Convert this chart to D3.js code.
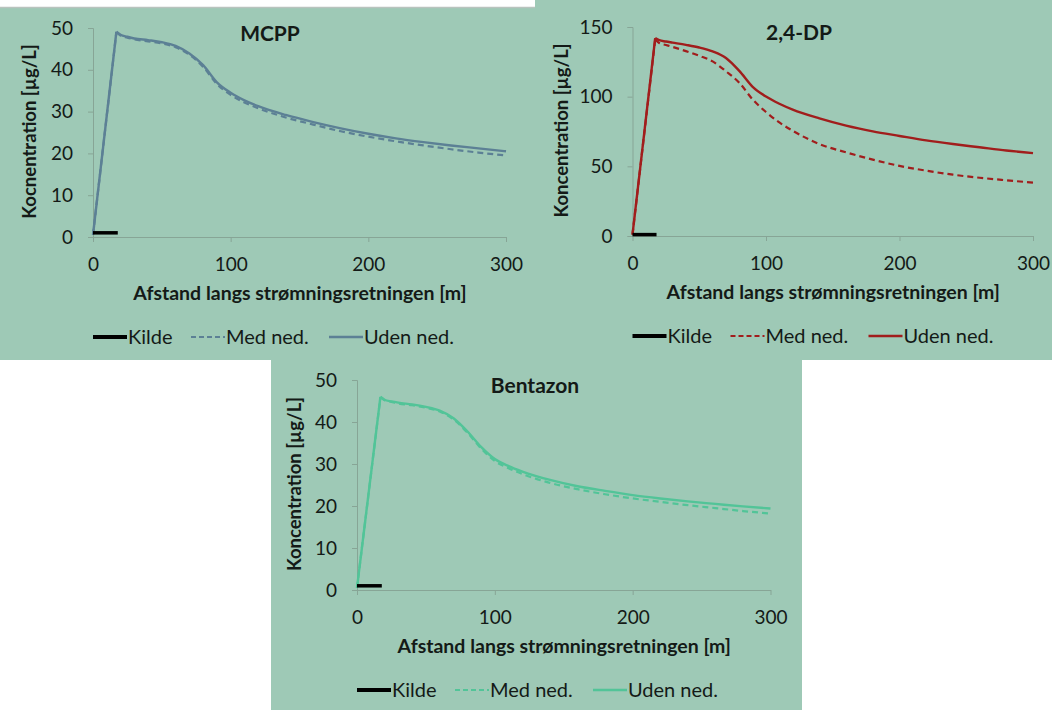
<!DOCTYPE html>
<html><head><meta charset="utf-8">
<script src="https://cdn.jsdelivr.net/npm/d3@7"></script>
<style>
html,body{margin:0;padding:0;background:#fff;}
svg{display:block;}
text{font-family:Lato,"Open Sans",sans-serif;fill:#141a17;}
</style></head><body>
<svg id="chart" width="1052" height="710"></svg>
<script>
// ---- data ----
const distances = [0, 17, 20, 25, 30, 40, 50, 60, 70, 80, 90, 100, 110, 120, 140, 160, 180, 200, 220, 240, 260, 280, 300];
const mcppUden = [0.5, 49.1, 48.4, 47.9, 47.5, 47.1, 46.6, 45.7, 43.9, 41.1, 37.0, 34.5, 32.7, 31.3, 29.2, 27.5, 26.0, 24.7, 23.6, 22.7, 21.9, 21.2, 20.5];
const mcppMed  = [0.5, 49.0, 48.2, 47.7, 47.3, 46.8, 46.3, 45.4, 43.6, 40.7, 36.6, 34.0, 32.2, 30.8, 28.6, 26.9, 25.3, 24.0, 22.9, 21.9, 21.0, 20.2, 19.5];
const dpUden   = [1, 142, 140.5, 139.6, 138.8, 137.2, 135.3, 132.5, 127.8, 118.5, 107.1, 100.1, 94.9, 90.7, 84.4, 79.2, 75.1, 71.8, 68.6, 66.0, 63.7, 61.4, 59.5];
const dpMed    = [1, 141, 138.5, 137.1, 135.7, 132.7, 129.3, 125.3, 118.2, 110.0, 98.0, 89.0, 81.5, 75.5, 66.0, 60.0, 54.8, 50.3, 46.9, 44.0, 41.8, 40.0, 38.3];
const benUden  = [0.5, 46.0, 45.3, 44.9, 44.6, 44.2, 43.6, 42.7, 40.9, 37.8, 34.1, 31.2, 29.5, 28.2, 26.2, 24.7, 23.6, 22.6, 21.8, 21.1, 20.5, 19.9, 19.4];
const benMed   = [0.5, 45.9, 45.2, 44.8, 44.4, 44.0, 43.4, 42.5, 40.6, 37.5, 33.7, 30.7, 29.0, 27.6, 25.5, 24.0, 22.8, 21.8, 21.0, 20.2, 19.5, 18.8, 18.2];
const kildeX = [0, 18];
const kildeY = [1, 1];
const xTicks = [0, 100, 200, 300];
const mcppYTicks = [0, 10, 20, 30, 40, 50];
const dpYTicks = [0, 50, 100, 150];
const benYTicks = [0, 10, 20, 30, 40, 50];
const titles = ["MCPP", "2,4-DP", "Bentazon"];
const yLabels = ["Kocnentration [µg/L]", "Koncentration [µg/L]", "Koncentration [µg/L]"];
const xLabel = "Afstand langs strømningsretningen [m]";
const legendLabels = ["Kilde", "Med ned.", "Uden ned."];

// ---- layout ----
const panels = [
  {bg:[0,7,535,353], x0:93, x1:506, yb:237, yt:28, yMax:50, yTicks:mcppYTicks, uden:mcppUden, med:mcppMed, color:"#5c8095", title:titles[0], tx:270, ylab:yLabels[0], ylOff:57, topLine:true},
  {bg:[535,0,517,360], x0:632.5, x1:1033, yb:236, yt:27, yMax:150, yTicks:dpYTicks, uden:dpUden, med:dpMed, color:"#a11d1c", title:titles[1], tx:799, ylab:yLabels[1], ylOff:65},
  {bg:[271,360,531,350], x0:357, x1:770.5, yb:590, yt:380, yMax:50, yTicks:benYTicks, uden:benUden, med:benMed, color:"#52c498", title:titles[2], tx:535, ylab:yLabels[2], ylOff:56}
];

const svg = d3.select("#chart");
const BG = "#9ec9b6";
const AX = "#87a596";

panels.forEach(p => {
  const g = svg.append("g");
  g.append("rect").attr("x",p.bg[0]).attr("y",p.bg[1]).attr("width",p.bg[2]).attr("height",p.bg[3]).attr("fill",BG);
  if (p.topLine) g.append("line").attr("x1",p.bg[0]).attr("x2",p.bg[0]+p.bg[2]).attr("y1",p.bg[1]+0.5).attr("y2",p.bg[1]+0.5).attr("stroke","#b9c3be").attr("stroke-width",1.5);

  const x = d3.scaleLinear().domain([0,300]).range([p.x0,p.x1]);
  const y = d3.scaleLinear().domain([0,p.yMax]).range([p.yb,p.yt]);

  // y axis
  const ya = g.append("g").attr("transform",`translate(${p.x0},0)`)
    .call(d3.axisLeft(y).tickValues(p.yTicks).tickSize(5).tickPadding(15).tickFormat(d3.format("d")));
  ya.select(".domain").attr("stroke",AX).attr("stroke-width",1);
  ya.selectAll(".tick line").attr("stroke",AX);
  ya.selectAll(".tick text").style("font-size","19px").attr("fill","#141a17");

  // x axis
  const xa = g.append("g").attr("transform",`translate(0,${p.yb})`)
    .call(d3.axisBottom(x).tickValues(xTicks).tickSize(5).tickPadding(16).tickSizeOuter(0));
  xa.select(".domain").attr("stroke",AX).attr("stroke-width",1);
  xa.selectAll(".tick line").attr("stroke",AX);
  xa.selectAll(".tick text").style("font-size","19px").attr("fill","#141a17");

  // lines: straight ramp to the peak, smooth decay after it
  const pts = vals => vals.map((v,i)=>[distances[i], v]);
  const ramp = d3.line().x(d=>x(d[0])).y(d=>y(d[1]));
  const decay = d3.line().x(d=>x(d[0])).y(d=>y(d[1])).curve(d3.curveMonotoneX);
  const draw = (vals, w, dash) => {
    const pp = pts(vals);
    g.append("path").attr("d", ramp(pp.slice(0,2))).attr("fill","none").attr("stroke",p.color).attr("stroke-width",w).attr("stroke-dasharray",dash);
    g.append("path").attr("d", decay(pp.slice(1))).attr("fill","none").attr("stroke",p.color).attr("stroke-width",w).attr("stroke-dasharray",dash).attr("stroke-linejoin","round");
  };
  draw(p.med, 2.2, "6,4");
  draw(p.uden, 2.4, null);
  const kl = d3.line().x((d,i)=>x(kildeX[i])).y(d=>y(d));
  g.append("path").datum(kildeY).attr("d",kl).attr("fill","none").attr("stroke","#000").attr("stroke-width",3.5);

  // title
  g.append("text").attr("x",p.tx).attr("y",p.yt+13)
    .attr("text-anchor","middle").style("font-size","21px").style("font-weight","bold").text(p.title);

  // axis titles
  const cx = (p.x0+p.x1)/2 + 0.5;
  g.append("text").attr("x",cx).attr("y",p.yb+63).attr("text-anchor","middle")
    .style("font-size","19.5px").style("font-weight","bold").text(xLabel);
  const ylx = p.x0 - p.ylOff, yly = (p.yb+p.yt)/2 - 1;
  g.append("text").attr("transform",`translate(${ylx},${yly}) rotate(-90)`).attr("text-anchor","middle")
    .style("font-size","18.5px").style("font-weight","bold").text(p.ylab);

  // legend
  const ly = p.yb + 100;
  const items = [
    {off:0, stroke:"#000", w:4, dash:null},
    {off:98, stroke:p.color, w:2.2, dash:"5,3"},
    {off:236, stroke:p.color, w:2.4, dash:null}
  ];
  items.forEach((it,i) => {
    const lx = p.x0 + it.off;
    g.append("line").attr("x1",lx).attr("x2",lx+34).attr("y1",ly).attr("y2",ly)
      .attr("stroke",it.stroke).attr("stroke-width",it.w).attr("stroke-dasharray",it.dash);
    g.append("text").attr("x",lx+35).attr("y",ly).attr("dy","0.35em").style("font-size","20px").text(legendLabels[i]);
  });
});
</script></body></html>
